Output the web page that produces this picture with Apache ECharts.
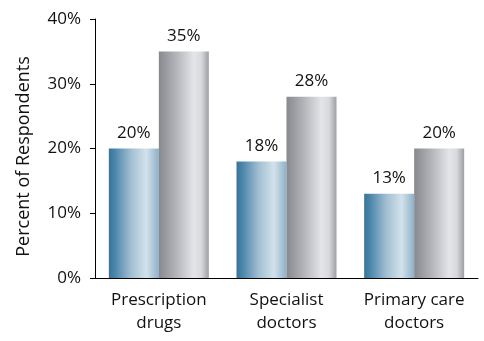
<!DOCTYPE html>
<html>
<head>
<meta charset="utf-8">
<script src="https://cdn.jsdelivr.net/npm/echarts@6/dist/echarts.min.js"></script>
<style>
  html, body { margin: 0; padding: 0; background: #fff; }
  #chart { width: 484px; height: 341px; }
</style>
</head>
<body>
<div id="chart"></div>
<script>
// Chart data
const categories = ['Prescription\ndrugs', 'Specialist\ndoctors', 'Primary care\ndoctors'];
const seriesA = [20, 18, 13];
const seriesB = [35, 28, 20];
const yTicks = [0, 10, 20, 30, 40];

const FONT = '"Open Sans", sans-serif';

function barGradient(stops) {
  return new echarts.graphic.LinearGradient(0, 0, 1, 0, stops);
}

const blueFill = barGradient([
  { offset: 0, color: '#33769e' },
  { offset: 0.12, color: '#4c86aa' },
  { offset: 0.45, color: '#a4bfd2' },
  { offset: 0.75, color: '#d2e2eb' },
  { offset: 1, color: '#8fafc8' }
]);

const grayFill = barGradient([
  { offset: 0, color: '#88898f' },
  { offset: 0.35, color: '#b4b5ba' },
  { offset: 0.7, color: '#e4e5e8' },
  { offset: 0.85, color: '#d8d9dc' },
  { offset: 1, color: '#9e9fa4' }
]);

const valueLabel = {
  show: true,
  position: 'top',
  distance: 7,
  color: '#111',
  fontSize: 17,
  fontFamily: FONT,
  formatter: '{c}%'
};

const chart = echarts.init(document.getElementById('chart'));

chart.setOption({
  animation: false,
  grid: { left: 95, right: 6, top: 19, bottom: 63 },
  xAxis: {
    type: 'category',
    data: categories,
    axisLine: { lineStyle: { color: '#000', width: 1 } },
    axisTick: { show: false },
    axisLabel: {
      interval: 0,
      hideOverlap: false,
      color: '#111',
      fontSize: 17,
      fontFamily: FONT,
      lineHeight: 23,
      margin: 11
    }
  },
  yAxis: {
    type: 'value',
    min: 0,
    max: 40,
    interval: 10,
    name: 'Percent of Respondents',
    nameLocation: 'middle',
    nameGap: 62,
    nameTextStyle: { color: '#111', fontSize: 18, fontFamily: FONT, padding: [0, 16, 0, 0] },
    axisLine: { show: true, lineStyle: { color: '#000', width: 1 } },
    axisTick: { show: true, length: 5, lineStyle: { color: '#000' } },
    splitLine: { show: false },
    axisLabel: {
      color: '#111',
      fontSize: 17,
      fontFamily: FONT,
      margin: 14,
      formatter: v => (yTicks.includes(v) ? v + '%' : '')
    }
  },
  series: [
    {
      type: 'bar',
      data: seriesA,
      barWidth: 50,
      barGap: '0%',
      itemStyle: { color: blueFill },
      label: valueLabel
    },
    {
      type: 'bar',
      data: seriesB,
      barWidth: 50,
      barGap: '0%',
      itemStyle: { color: grayFill },
      label: valueLabel
    }
  ]
});
</script>
</body>
</html>
